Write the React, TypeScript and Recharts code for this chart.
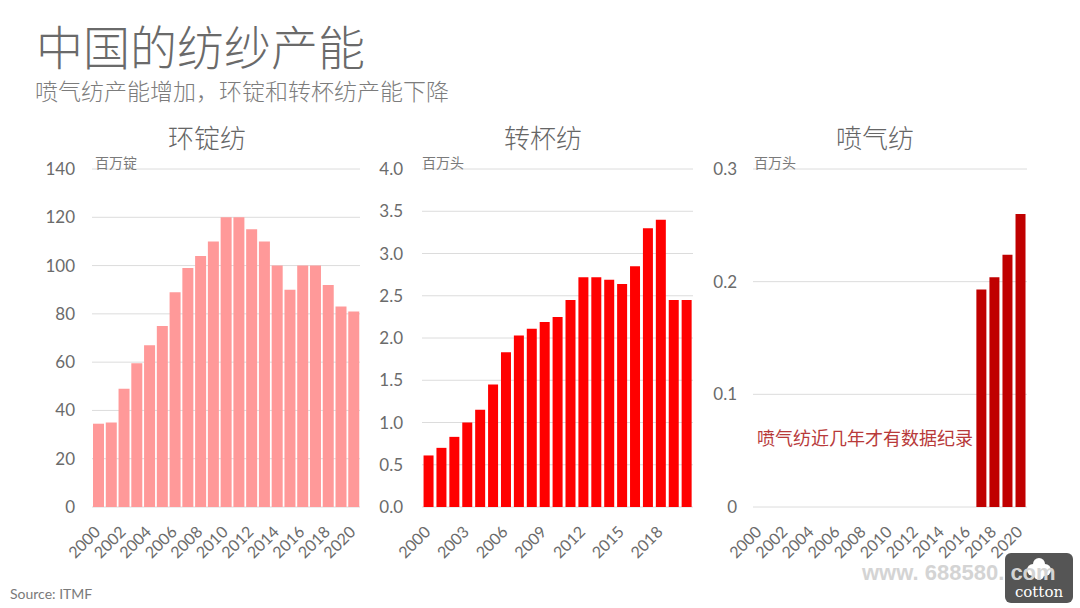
import React from "react";
import { BarChart, Bar, XAxis, YAxis, CartesianGrid } from "recharts";

const years = [
  "2000", "2001", "2002", "2003", "2004", "2005", "2006", "2007", "2008", "2009", "2010",
  "2011", "2012", "2013", "2014", "2015", "2016", "2017", "2018", "2019", "2020",
];
const ringValues = [34.5, 35, 49, 59.5, 67, 75, 89, 99, 104, 110, 120, 120, 115, 110, 100, 90, 100, 100, 92, 83, 81];
const rotorValues = [0.61, 0.7, 0.83, 1.0, 1.15, 1.45, 1.83, 2.03, 2.11, 2.19, 2.25, 2.45, 2.72, 2.72, 2.69, 2.64, 2.85, 3.3, 3.4, 2.45, 2.45];
const airjetValues: (number | null)[] = [
  null, null, null, null, null, null, null, null, null, null, null,
  null, null, null, null, null, null, 0.193, 0.204, 0.224, 0.26,
];
const ringTicks = [0, 20, 40, 60, 80, 100, 120, 140];
const rotorTicks = [0, 0.5, 1, 1.5, 2, 2.5, 3, 3.5, 4];
const airjetTicks = [0, 0.1, 0.2, 0.3];

const ringData = years.map((y, i) => ({ year: y, v: ringValues[i] }));
const rotorData = years.map((y, i) => ({ year: y, v: rotorValues[i] }));
const airjetData = years.map((y, i) => ({ year: y, v: airjetValues[i] }));

const NUM_FONT = "Lato, 'DejaVu Sans', sans-serif";
const CJK = "'Noto Sans CJK SC', 'Noto Sans', sans-serif";
const TICK_COLOR = "#6b6b6b";

const XTick = (props: any) => {
  const { x, y, payload } = props;
  const ex = x + 3;
  const ey = y + 26;
  return (
    <text
      x={ex}
      y={ey}
      transform={`rotate(-45, ${ex}, ${ey})`}
      textAnchor="end"
      fill={TICK_COLOR}
      fontSize={16}
      fontFamily={NUM_FONT}
    >
      {payload.value}
    </text>
  );
};

type PanelProps = {
  left: number;
  width: number;
  yWidth: number;
  right: number;
  data: any[];
  ticks: number[];
  domain: [number, number];
  fmt: (v: number) => string;
  tickMargin: number;
  interval: number;
  color: string;
  gap: string;
};

const Panel = (p: PanelProps) => (
  <div style={{ position: "absolute", left: p.left, top: 150 }}>
    <BarChart
      width={p.width}
      height={430}
      data={p.data}
      margin={{ top: 19, right: p.right, bottom: 13, left: 0 }}
      barCategoryGap={p.gap}
    >
      <CartesianGrid vertical={false} stroke="#DCDCDC" />
      <XAxis
        dataKey="year"
        axisLine={false}
        tickLine={false}
        tickSize={0}
        tickMargin={0}
        height={60}
        interval={p.interval}
        tick={<XTick />}
      />
      <YAxis
        width={p.yWidth}
        domain={p.domain}
        ticks={p.ticks}
        tickFormatter={p.fmt}
        axisLine={false}
        tickLine={false}
        tickSize={0}
        tickMargin={p.tickMargin}
        interval={0}
        tick={{ fill: TICK_COLOR, fontSize: 17, fontFamily: NUM_FONT }}
      />
      <Bar dataKey="v" fill={p.color} isAnimationActive={false} />
    </BarChart>
  </div>
);

const abs = (left: number, top: number, size: number, color: string, extra: any = {}) => ({
  position: "absolute" as const,
  left,
  top,
  fontSize: size,
  lineHeight: `${size}px`,
  color,
  fontFamily: CJK,
  whiteSpace: "nowrap" as const,
  ...extra,
});

export default function App() {
  return (
    <div
      style={{
        position: "absolute",
        left: 0,
        top: 0,
        width: 1080,
        height: 608,
        background: "#ffffff",
        overflow: "hidden",
      }}
    >
      <div style={abs(36, 21, 47, "#6a6a6a", { fontWeight: 300 })}>中国的纺纱产能</div>
      <div style={abs(35, 79, 23, "#7c7c7c", { fontWeight: 300 })}>喷气纺产能增加，环锭和转杯纺产能下降</div>

      <div style={abs(107, 124, 26, "#666666", { width: 200, textAlign: "center", fontWeight: 300 })}>环锭纺</div>
      <div style={abs(443, 124, 26, "#666666", { width: 200, textAlign: "center", fontWeight: 300 })}>转杯纺</div>
      <div style={abs(775, 124, 26, "#666666", { width: 200, textAlign: "center", fontWeight: 300 })}>喷气纺</div>

      <Panel
        left={0}
        width={380}
        yWidth={92}
        right={20}
        data={ringData}
        ticks={ringTicks}
        domain={[0, 140]}
        fmt={(v) => String(v)}
        tickMargin={17}
        interval={1}
        color="#FF9999"
        gap="8%"
      />
      <Panel
        left={360}
        width={350}
        yWidth={62}
        right={17}
        data={rotorData}
        ticks={rotorTicks}
        domain={[0, 4]}
        fmt={(v) => v.toFixed(1)}
        tickMargin={19}
        interval={2}
        color="#FF0000"
        gap="12%"
      />
      <Panel
        left={700}
        width={380}
        yWidth={53}
        right={53}
        data={airjetData}
        ticks={airjetTicks}
        domain={[0, 0.3]}
        fmt={(v) => (v === 0 ? "0" : v.toFixed(1))}
        tickMargin={16}
        interval={1}
        color="#C00000"
        gap="12%"
      />

      <div style={abs(95, 155, 14, "#7a7a7a")}>百万锭</div>
      <div style={abs(422, 155, 14, "#7a7a7a")}>百万头</div>
      <div style={abs(754, 155, 14, "#7a7a7a")}>百万头</div>

      <div style={abs(757, 428, 18, "#B83A3A")}>喷气纺近几年才有数据纪录</div>

      <div style={abs(10, 587, 14, "#7a7a7a", { fontFamily: NUM_FONT })}>Source: ITMF</div>

      <svg
        width={1080}
        height={608}
        style={{ position: "absolute", left: 0, top: 0, pointerEvents: "none" }}
      >
        <rect x={1005} y={553} width={68} height={50} rx={6} fill="#555555" />
        <g fill="#ffffff">
          <circle cx={1033} cy={570} r={6} />
          <circle cx={1045} cy={570} r={6} />
          <circle cx={1039} cy={564} r={6} />
          <circle cx={1039} cy={575} r={5} />
        </g>
        <text
          x={1039}
          y={597}
          textAnchor="middle"
          fill="#ffffff"
          fontSize={15}
          fontFamily="'DejaVu Serif', serif"
        >
          cotton
        </text>
        <text
          x={862}
          y={580}
          fill="#D4D4D4"
          fontSize={22}
          fontWeight="bold"
          fontFamily="'Liberation Sans', Arial, sans-serif"
        >
          www. 688580. com
        </text>
      </svg>
    </div>
  );
}
